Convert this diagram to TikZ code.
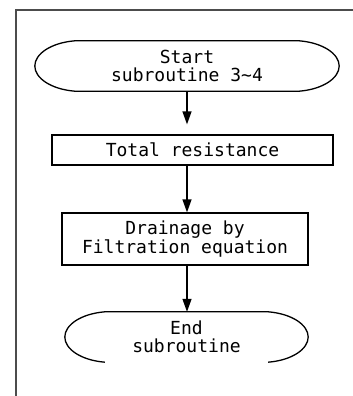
\documentclass[tikz,border=0pt]{standalone}
\usepackage{fontspec}
\setmonofont{DejaVu Sans Mono}
\usetikzlibrary{arrows.meta}
\begin{document}
\begin{tikzpicture}[x=1pt,y=-1pt,
  every node/.style={font=\ttfamily\fontsize{18}{18.5}\selectfont, align=center, inner sep=0pt},
  line/.style={line width=1.3pt, black},
  frameline/.style={line width=1.4pt, black!70},
  proc/.style={draw, line width=1.3pt, minimum height=#1},
  term/.style={minimum width=#1, minimum height=50pt},
  arr/.style={line width=1.3pt, -{Triangle[length=13pt,width=9pt]}}]
\useasboundingbox (0,0) rectangle (353,396);
% frame
\draw[frameline] (16,396) -- (16,10) -- (353,10);
% nodes
\node[term=304pt] (start) at (187,66) {Start\\subroutine 3\char`\~4};
\node[proc=30pt, minimum width=281pt] (tot) at (192.5,150) {Total resistance};
\node[proc=52pt, minimum width=246pt] (drain) at (185,239) {Drainage by\\Filtration equation};
\node[term=243pt] (end) at (186.5,337) {End\\subroutine};
\coordinate (ax) at (187,0);
% terminator outlines
\draw[line] ([xshift=40pt]start.north west) -- ([xshift=-40pt]start.north east)
  .. controls ([xshift=-16pt,yshift=-2pt]start.north east) and ([yshift=12pt]start.east) .. (start.east)
  .. controls ([yshift=-12pt]start.east) and ([xshift=-16pt,yshift=2pt]start.south east) .. ([xshift=-40pt]start.south east)
  -- ([xshift=40pt]start.south west)
  .. controls ([xshift=16pt,yshift=2pt]start.south west) and ([yshift=-12pt]start.west) .. (start.west)
  .. controls ([yshift=12pt]start.west) and ([xshift=16pt,yshift=-2pt]start.north west) .. cycle;
\draw[line] ([xshift=-40pt]end.south east)
  .. controls ([xshift=-16pt,yshift=2pt]end.south east) and ([yshift=-12pt]end.east) .. (end.east)
  .. controls ([yshift=12pt]end.east) and ([xshift=-16pt,yshift=-2pt]end.north east) .. ([xshift=-40pt]end.north east)
  -- ([xshift=40pt]end.north west)
  .. controls ([xshift=16pt,yshift=-2pt]end.north west) and ([yshift=12pt]end.west) .. (end.west)
  .. controls ([yshift=-12pt]end.west) and ([xshift=16pt,yshift=2pt]end.south west) .. ([xshift=40pt]end.south west);
% arrows
\draw[arr, shorten >=10pt] (start.south -| ax) -- (tot.north -| ax);
\draw[arr] (tot.south -| ax) -- (drain.north -| ax);
\draw[arr] (drain.south -| ax) -- (end.north -| ax);
\end{tikzpicture}
\end{document}
